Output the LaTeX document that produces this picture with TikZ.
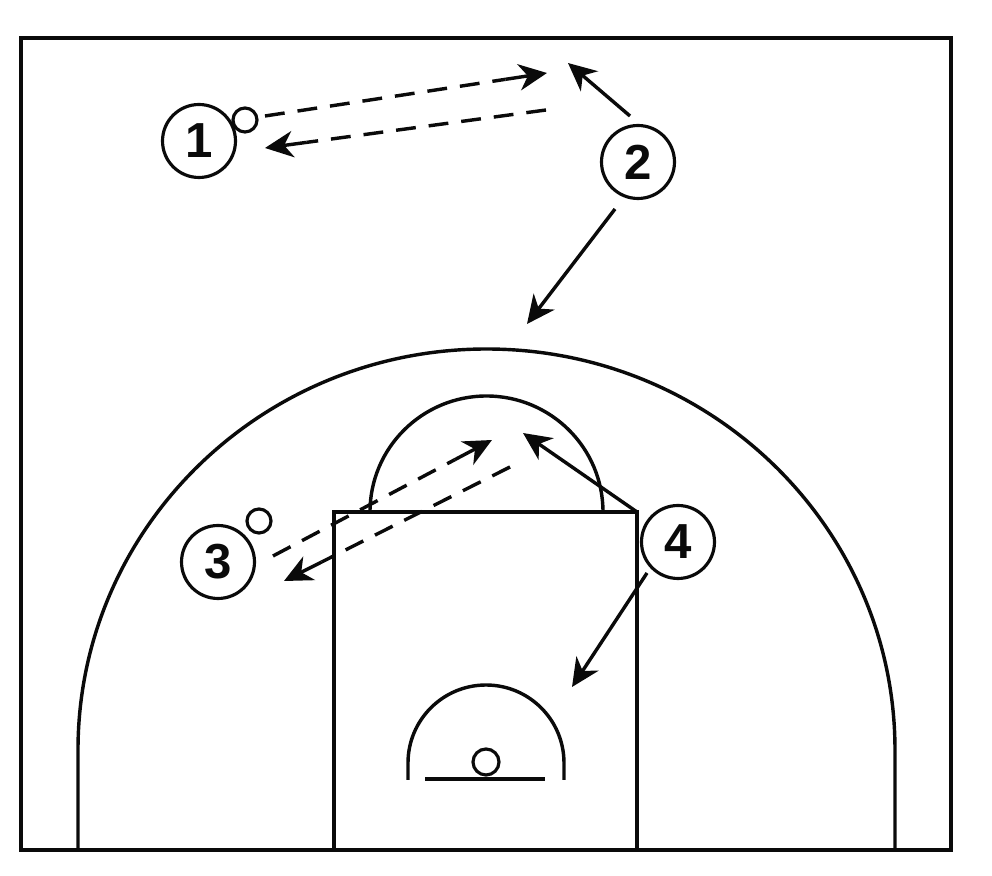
\documentclass[tikz,border=0pt]{standalone}
\usepackage{fontspec}
\setmainfont{Liberation Sans}
\usetikzlibrary{arrows.meta,calc}
\definecolor{ink}{HTML}{0A0A0A}
\tikzset{
  court line/.style={
    draw=ink,
    line width=1.95pt
  },
  player/.style={
    circle,
    draw=ink,
    fill=white,
    line width=1.8pt,
    minimum size=1.46cm,
    inner sep=0pt,
    font=\fontsize{28}{28}\selectfont\bfseries,
    text=ink
  },
  ball/.style={
    circle,
    draw=ink,
    fill=white,
    line width=1.8pt,
    minimum size=0.48cm,
    inner sep=0pt
  },
  cut edge/.style={
    -{Stealth[length=16pt,width=15pt,inset=5pt]},
    draw=ink,
    line width=1.95pt
  },
  pass edge/.style={
    draw=ink,
    line width=1.95pt,
    dash pattern=on 11.3pt off 7.4pt
  }
}
\begin{document}
\begin{tikzpicture}[x=0.02cm,y=0.02cm]
  \useasboundingbox (0,0) rectangle (992,876);

  % court
  \draw[court line] (21,26) rectangle (951,838);
  \draw[court line] (334,26) rectangle (637,364);
  \draw[court line] (78,26) -- (78,126) arc[start angle=180,end angle=0,x radius=408.5,y radius=401] -- (895,26);
  \draw[court line] (370,364) arc[start angle=180,end angle=0,x radius=116.5,y radius=116];
  \draw[court line] (408,96) -- (408,113) arc[start angle=180,end angle=0,radius=78] -- (564,96);
  \draw[court line] (425,97) -- (545,97);
  \node[ball,minimum size=0.52cm] (hoop) at (486,114) {};

  % players
  \node[player] (p1) at (199,735) {1};
  \node[player] (p2) at (638,714) {2};
  \node[player] (p3) at (218,314) {3};
  \node[player] (p4) at (678,334) {4};
  \node[ball] (b1) at (245,756) {};
  \node[ball] (b3) at (259,355) {};

  % arrow ends
  \coordinate (pass1a) at (265,760);
  \coordinate (pass1b) at (547,803);
  \coordinate (pass2a) at (546,766);
  \coordinate (pass2b) at (265,728);
  \coordinate (cut2a) at (630,760);
  \coordinate (cut2b) at (568,813);
  \coordinate (cut2c) at (615,667);
  \coordinate (cut2d) at (527,552);
  \coordinate (pass3a) at (273,320);
  \coordinate (pass3b) at (492,436);
  \coordinate (pass4a) at (510,409);
  \coordinate (pass4b) at (284,295);
  \coordinate (cut4a) at (637,364);
  \coordinate (cut4b) at (523,443);
  \coordinate (cut4c) at (647,303);
  \coordinate (cut4d) at (572,189);

  \foreach \from/\to in {pass1a/pass1b,pass2a/pass2b,pass3a/pass3b,pass4a/pass4b}{
    \coordinate (tail) at ($(\to)!24pt!(\from)$);
    \draw[pass edge] (\from) -- (tail);
    \draw[cut edge] (tail) -- (\to);
  }
  \draw[cut edge] (cut2a) -- (cut2b);
  \draw[cut edge] (cut2c) -- (cut2d);
  \draw[cut edge] (cut4a) -- (cut4b);
  \draw[cut edge] (cut4c) -- (cut4d);
\end{tikzpicture}
\end{document}
